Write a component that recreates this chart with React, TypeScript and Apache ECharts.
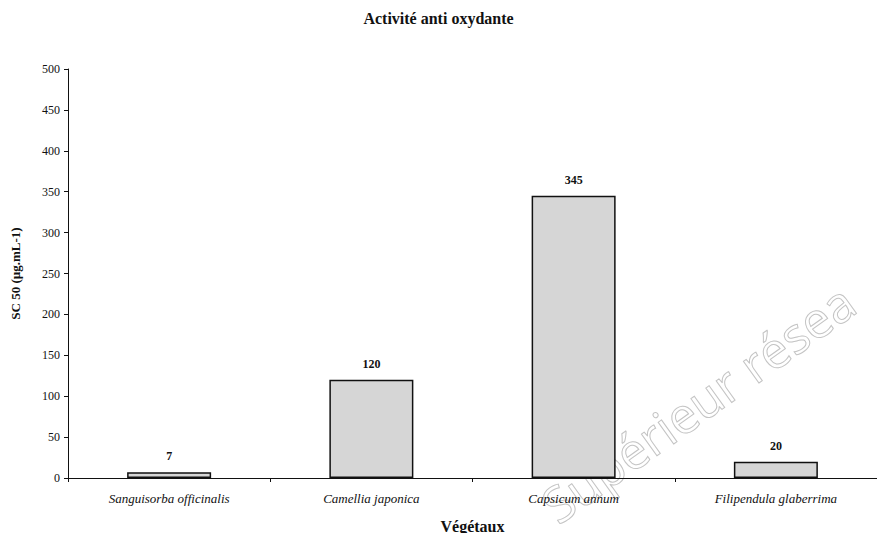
import React, { useEffect, useRef } from "react";
import * as echarts from "echarts";

const categories = [
  "Sanguisorba officinalis",
  "Camellia japonica",
  "Capsicum annum",
  "Filipendula glaberrima",
];
const values = [7, 120, 345, 20];
const titleText = "Activité anti oxydante";
const yAxisName = "SC 50 (µg.mL-1)";
const xAxisName = "Végétaux";
const watermark = "Supérieur résea";

const FONT = "'Liberation Serif', 'DejaVu Serif', serif";

export default function App() {
  const ref = useRef<HTMLDivElement>(null);
  useEffect(() => {
    if (!ref.current) return;
    const chart = echarts.init(ref.current, undefined, { renderer: "svg" });
    chart.setOption({
      animation: false,
      backgroundColor: "#ffffff",
      title: {
        text: titleText,
        left: "center",
        top: 5,
        textStyle: { fontFamily: FONT, fontSize: 16, fontWeight: "bold", color: "#111" },
      },
      grid: { left: 68, right: 0, top: 69, bottom: 55, outerBoundsMode: "none" },
      xAxis: {
        type: "category",
        data: categories,
        boundaryGap: true,
        name: xAxisName,
        nameLocation: "middle",
        nameGap: 40,
        nameTextStyle: { fontFamily: FONT, fontSize: 16, fontWeight: "bold", color: "#111" },
        axisLine: { lineStyle: { color: "#111", width: 1 } },
        axisTick: { show: true, alignWithLabel: false, length: 4, lineStyle: { color: "#111" } },
        axisLabel: {
          fontFamily: FONT,
          fontStyle: "italic",
          fontSize: 13,
          color: "#111",
          margin: 14,
        },
      },
      yAxis: {
        type: "value",
        min: 0,
        max: 500,
        interval: 50,
        name: yAxisName,
        nameLocation: "middle",
        nameGap: 46,
        nameTextStyle: { fontFamily: FONT, fontSize: 13, fontWeight: "bold", color: "#111" },
        axisLine: { show: true, lineStyle: { color: "#111", width: 1 } },
        axisTick: { show: true, length: 4, lineStyle: { color: "#111" } },
        splitLine: { show: false },
        axisLabel: { fontFamily: FONT, fontSize: 12, color: "#111", margin: 8 },
      },
      series: [
        {
          type: "bar",
          data: values,
          barWidth: 84,
          itemStyle: { color: "#d6d6d6", borderColor: "#111", borderWidth: 1.5 },
          label: {
            show: true,
            position: "top",
            distance: 10,
            fontFamily: FONT,
            fontSize: 12,
            fontWeight: "bold",
            color: "#111",
          },
        },
      ],
      graphic: [
        {
          type: "text",
          x: 562,
          y: 531,
          rotation: 0.62,
          silent: true,
          style: {
            text: watermark,
            font: "50px 'Open Sans', sans-serif",
            fill: "rgba(255,255,255,0)",
            stroke: "#c4c4c4",
            lineWidth: 1,
            textVerticalAlign: "bottom",
          },
        },
      ],
    });
    return () => chart.dispose();
  }, []);
  return (
    <div
      ref={ref}
      style={{ position: "absolute", left: 0, top: 0, width: 877, height: 533 }}
    />
  );
}
